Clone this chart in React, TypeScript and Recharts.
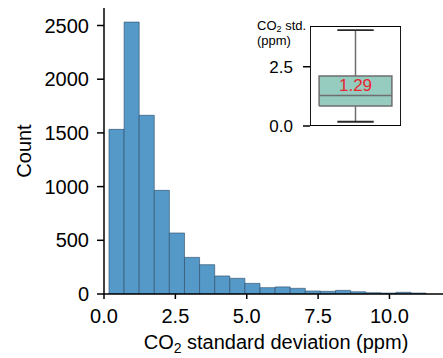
import React from "react";
import { Area, Bar, ComposedChart, Label, Scatter, XAxis, YAxis } from "recharts";

// histogram of CO2 std (ppm), bins
const binStart = 0.175;
const binWidth = 0.529;
const counts = [1533, 2532, 1664, 965, 568, 341, 273, 168, 146, 99, 59, 66, 53, 28, 25, 34, 21, 12, 9, 16, 9];
const xTicks = [0, 2.5, 5, 7.5, 10];
const yTicks = [0, 500, 1000, 1500, 2000, 2500];

// inset box plot
const boxStats = { min: 0.18, q1: 0.84, median: 1.29, q3: 2.11, max: 4.05 };
const boxTicks = [0, 2.5];
const medianText = "1.29";

const bins = counts.map((count, i) => ({ x: binStart + (i + 0.5) * binWidth, count }));

const W = 448;
const H = 358;
const X_MAX = 12.05;
const Y_MAX = 2663;
const Y_AXIS_W = 104;
const X_AXIS_H = 64;
const barPx = ((W - Y_AXIS_W) / X_MAX) * binWidth;

// inset geometry in data units (x runs 0..1 across the little axes)
const BOX_Y_MAX = 4.22;
const BOX_L = 0.1;
const BOX_R = 0.9;
const CAP_L = 0.3;
const CAP_R = 0.7;
const MID = 0.5;

const boxFill = [
    { x: BOX_L, box: [boxStats.q1, boxStats.q3] },
    { x: BOX_R, box: [boxStats.q1, boxStats.q3] },
];
const boxOutline = [
    { x: BOX_L, y: boxStats.q1 },
    { x: BOX_R, y: boxStats.q1 },
    { x: BOX_R, y: boxStats.q3 },
    { x: BOX_L, y: boxStats.q3 },
    { x: BOX_L, y: boxStats.q1 },
];
const medianLine = [
    { x: BOX_L, y: boxStats.median },
    { x: BOX_R, y: boxStats.median },
];
const whiskerHi = [
    { x: MID, y: boxStats.q3 },
    { x: MID, y: boxStats.max },
];
const whiskerLo = [
    { x: MID, y: boxStats.min },
    { x: MID, y: boxStats.q1 },
];
const capHi = [
    { x: CAP_L, y: boxStats.max },
    { x: CAP_R, y: boxStats.max },
];
const capLo = [
    { x: CAP_L, y: boxStats.min },
    { x: CAP_R, y: boxStats.min },
];
const frame = [
    { x: 0, y: 0 },
    { x: 1, y: 0 },
    { x: 1, y: BOX_Y_MAX },
    { x: 0, y: BOX_Y_MAX },
    { x: 0, y: 0 },
];
const medianPoint = [{ x: MID, y: boxStats.median }];

const font = "'Liberation Sans', Arial, sans-serif";

const noDot = () => <g />;

const XLabel = (props: any) => {
    const vb = props.viewBox;
    return (
        <text x={vb.x + vb.width / 2} y={vb.y + 55} textAnchor="middle" fontSize={20} fill="#000">
            CO<tspan fontSize={14} dy={4}>2</tspan>
            <tspan dy={-4}> standard deviation (ppm)</tspan>
        </text>
    );
};

const YLabel = (props: any) => {
    const vb = props.viewBox;
    const x = vb.x + 30.5;
    const y = vb.y + vb.height / 2;
    return (
        <text x={x} y={y} transform={`rotate(-90, ${x}, ${y})`} textAnchor="middle" fontSize={20} fill="#000">
            Count
        </text>
    );
};

const InsetLabel = (props: any) => {
    const vb = props.viewBox;
    const x = vb.x + 7;
    return (
        <g>
            <text x={x} y={vb.y + 4} fontSize={13} fill="#000">
                CO<tspan fontSize={9} dy={1.5}>2</tspan>
                <tspan dy={-1.5}> std.</tspan>
            </text>
            <text x={x} y={vb.y + 18.5} fontSize={13} fill="#000">
                (ppm)
            </text>
        </g>
    );
};

const MedianText = (p: any) => (
    <text x={p.cx} y={p.cy - 4} textAnchor="middle" fontSize={17} fill="#e8262f">
        {medianText}
    </text>
);

const grey = { stroke: "#6e6e6e", strokeWidth: 1.5 };
const dark = { stroke: "#2a2a2a", strokeWidth: 1.8 };

const Inset = () => (
    <ComposedChart width={153} height={128} margin={{ top: 16, right: 2, bottom: 12, left: 0 }} data={boxFill}>
        <XAxis dataKey="x" type="number" domain={[0, 1]} allowDataOverflow hide />
        <YAxis
            dataKey="y"
            type="number"
            domain={[0, BOX_Y_MAX]}
            ticks={boxTicks}
            interval={0}
            allowDataOverflow
            width={60}
            axisLine={false}
            tickSize={7}
            tickMargin={10}
            tickLine={{ stroke: "#000", strokeWidth: 1.5 }}
            tick={{ fill: "#000", fontSize: 17 }}
            tickFormatter={(v: number) => v.toFixed(1)}
        >
            <Label content={InsetLabel} />
        </YAxis>
        <Area dataKey="box" type="linear" fill="#96cbbf" fillOpacity={1} stroke="none" isAnimationActive={false} />
        <Scatter data={whiskerHi} line={grey} lineType="joint" shape={noDot} isAnimationActive={false} />
        <Scatter data={whiskerLo} line={grey} lineType="joint" shape={noDot} isAnimationActive={false} />
        <Scatter data={capHi} line={dark} lineType="joint" shape={noDot} isAnimationActive={false} />
        <Scatter data={capLo} line={dark} lineType="joint" shape={noDot} isAnimationActive={false} />
        <Scatter data={boxOutline} line={grey} lineType="joint" shape={noDot} isAnimationActive={false} />
        <Scatter data={medianLine} line={grey} lineType="joint" shape={noDot} isAnimationActive={false} />
        <Scatter data={frame} line={{ stroke: "#000", strokeWidth: 1.8 }} lineType="joint" shape={noDot} isAnimationActive={false} />
        <Scatter data={medianPoint} shape={MedianText} isAnimationActive={false} />
    </ComposedChart>
);

export default function App() {
    return (
        <div style={{ position: "absolute", left: 0, top: 0, width: 443, height: 358, overflow: "hidden", background: "#fff", fontFamily: font }}>
            <ComposedChart width={W} height={H} data={bins} margin={{ top: 8, right: 0, bottom: 0, left: 0 }}>
                <XAxis
                    dataKey="x"
                    type="number"
                    domain={[0, X_MAX]}
                    ticks={xTicks}
                    allowDataOverflow
                    height={X_AXIS_H}
                    tickSize={5}
                    tickMargin={10}
                    axisLine={{ stroke: "#000", strokeWidth: 1.5 }}
                    tickLine={{ stroke: "#000", strokeWidth: 1.5 }}
                    tick={{ fill: "#000", fontSize: 20 }}
                    tickFormatter={(v: number) => v.toFixed(1)}
                >
                    <Label content={XLabel} />
                </XAxis>
                <XAxis xAxisId="top" orientation="top" type="number" domain={[0, X_MAX]} height={0} tick={false} tickLine={false} axisLine={{ stroke: "#000", strokeWidth: 1.5 }} />
                <YAxis
                    type="number"
                    domain={[0, Y_MAX]}
                    ticks={yTicks}
                    interval={0}
                    allowDataOverflow
                    width={Y_AXIS_W}
                    tickSize={7}
                    tickMargin={8}
                    axisLine={{ stroke: "#000", strokeWidth: 1.5 }}
                    tickLine={{ stroke: "#000", strokeWidth: 1.5 }}
                    tick={{ fill: "#000", fontSize: 20 }}
                >
                    <Label content={YLabel} />
                </YAxis>
                <Bar dataKey="count" barSize={barPx - 0.02} fill="#5599c8" stroke="#2c4a66" strokeWidth={0.6} isAnimationActive={false} />
            </ComposedChart>
            <div style={{ position: "absolute", left: 250, top: 10 }}>
                <Inset />
            </div>
        </div>
    );
}
